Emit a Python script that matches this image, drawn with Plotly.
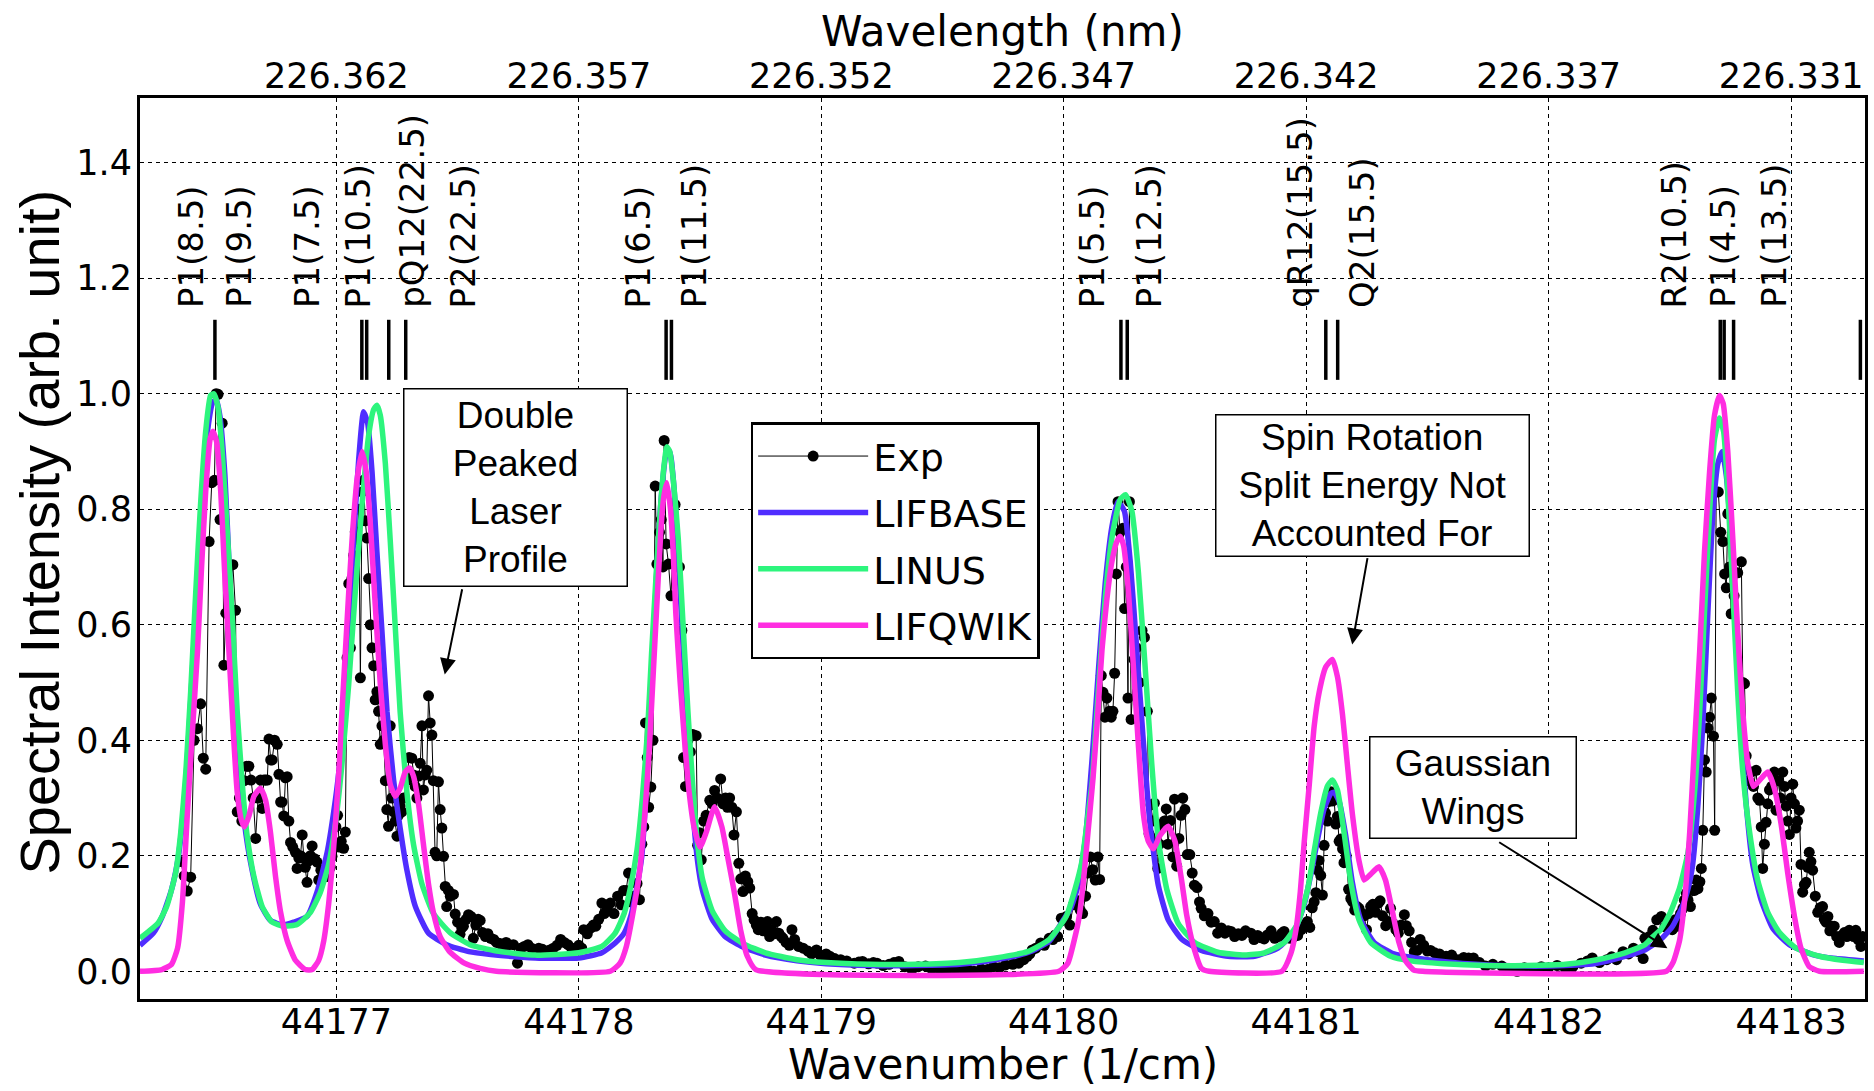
import plotly.graph_objects as go

# ---------------- experimental spectrum ----------------
exp_wavenumber = [
    44176.358, 44176.372, 44176.385, 44176.399, 44176.413, 44176.427, 44176.440, 44176.451, 44176.461, 44176.475,
    44176.486, 44176.497, 44176.504, 44176.512, 44176.520, 44176.529, 44176.536, 44176.544, 44176.556, 44176.573,
    44176.584, 44176.591, 44176.600, 44176.610, 44176.620, 44176.630, 44176.639, 44176.648, 44176.657, 44176.667,
    44176.677, 44176.687, 44176.694, 44176.701, 44176.708, 44176.715, 44176.722, 44176.729, 44176.735, 44176.745,
    44176.756, 44176.763, 44176.770, 44176.776, 44176.783, 44176.790, 44176.797, 44176.804, 44176.811, 44176.820,
    44176.831, 44176.838, 44176.845, 44176.852, 44176.859, 44176.866, 44176.872, 44176.879, 44176.886, 44176.893,
    44176.900, 44176.910, 44176.920, 44176.927, 44176.936, 44176.945, 44176.962, 44176.975, 44176.982, 44176.989,
    44176.998, 44177.005, 44177.012, 44177.020, 44177.030, 44177.037, 44177.044, 44177.051, 44177.058, 44177.064,
    44177.071, 44177.078, 44177.085, 44177.092, 44177.099, 44177.106, 44177.112, 44177.119, 44177.126, 44177.133,
    44177.140, 44177.147, 44177.154, 44177.160, 44177.167, 44177.174, 44177.181, 44177.188, 44177.195, 44177.202,
    44177.208, 44177.215, 44177.222, 44177.229, 44177.236, 44177.243, 44177.250, 44177.256, 44177.263, 44177.270,
    44177.277, 44177.290, 44177.300, 44177.311, 44177.318, 44177.325, 44177.332, 44177.339, 44177.346, 44177.353,
    44177.359, 44177.366, 44177.373, 44177.380, 44177.387, 44177.394, 44177.400, 44177.407, 44177.414, 44177.421,
    44177.428, 44177.435, 44177.442, 44177.449, 44177.455, 44177.462, 44177.470, 44177.483, 44177.490, 44177.500,
    44177.510, 44177.517, 44177.524, 44177.535, 44177.545, 44177.555, 44177.565, 44177.575, 44177.585, 44177.593,
    44177.603, 44177.615, 44177.625, 44177.637, 44177.649, 44177.661, 44177.675, 44177.689, 44177.700, 44177.712,
    44177.730, 44177.747, 44177.760, 44177.775, 44177.790, 44177.805, 44177.820, 44177.835, 44177.850, 44177.865,
    44177.880, 44177.895, 44177.910, 44177.925, 44177.940, 44177.955, 44177.970, 44177.985, 44178.000, 44178.012,
    44178.020, 44178.035, 44178.050, 44178.060, 44178.070, 44178.082, 44178.095, 44178.105, 44178.115, 44178.130,
    44178.145, 44178.160, 44178.175, 44178.185, 44178.195, 44178.205, 44178.215, 44178.225, 44178.240, 44178.250,
    44178.260, 44178.268, 44178.275, 44178.282, 44178.288, 44178.297, 44178.306, 44178.315, 44178.322, 44178.333,
    44178.340, 44178.347, 44178.352, 44178.360, 44178.370, 44178.380, 44178.388, 44178.397, 44178.405, 44178.415,
    44178.425, 44178.432, 44178.440, 44178.450, 44178.460, 44178.470, 44178.484, 44178.490, 44178.498, 44178.505,
    44178.515, 44178.525, 44178.540, 44178.550, 44178.560, 44178.570, 44178.585, 44178.595, 44178.605, 44178.613,
    44178.622, 44178.631, 44178.640, 44178.650, 44178.660, 44178.668, 44178.677, 44178.687, 44178.697, 44178.705,
    44178.715, 44178.723, 44178.732, 44178.740, 44178.750, 44178.760, 44178.770, 44178.778, 44178.787, 44178.796,
    44178.805, 44178.815, 44178.825, 44178.835, 44178.842, 44178.855, 44178.868, 44178.879, 44178.890, 44178.906,
    44178.925, 44178.945, 44178.960, 44178.980, 44178.995, 44179.007, 44179.020, 44179.035, 44179.055, 44179.080,
    44179.105, 44179.136, 44179.155, 44179.170, 44179.195, 44179.215, 44179.230, 44179.255, 44179.280, 44179.300,
    44179.320, 44179.345, 44179.374, 44179.400, 44179.430, 44179.455, 44179.480, 44179.500, 44179.525, 44179.555,
    44179.580, 44179.605, 44179.630, 44179.660, 44179.686, 44179.710, 44179.735, 44179.760, 44179.790, 44179.815,
    44179.835, 44179.850, 44179.860, 44179.870, 44179.885, 44179.905, 44179.920, 44179.940, 44179.955, 44179.965,
    44179.975, 44179.990, 44180.000, 44180.011, 44180.025, 44180.040, 44180.050, 44180.059, 44180.068, 44180.078,
    44180.090, 44180.100, 44180.110, 44180.120, 44180.130, 44180.141, 44180.148, 44180.155, 44180.162, 44180.170,
    44180.178, 44180.188, 44180.196, 44180.203, 44180.210, 44180.217, 44180.224, 44180.232, 44180.244, 44180.251,
    44180.258, 44180.265, 44180.271, 44180.278, 44180.290, 44180.300, 44180.312, 44180.323, 44180.333, 44180.345,
    44180.352, 44180.360, 44180.367, 44180.374, 44180.381, 44180.388, 44180.395, 44180.405, 44180.415, 44180.423,
    44180.430, 44180.440, 44180.450, 44180.457, 44180.466, 44180.475, 44180.484, 44180.491, 44180.500, 44180.510,
    44180.520, 44180.530, 44180.539, 44180.550, 44180.560, 44180.567, 44180.580, 44180.595, 44180.608, 44180.621,
    44180.635, 44180.650, 44180.665, 44180.678, 44180.690, 44180.705, 44180.720, 44180.735, 44180.750, 44180.772,
    44180.785, 44180.800, 44180.815, 44180.827, 44180.840, 44180.855, 44180.870, 44180.885, 44180.900, 44180.909,
    44180.920, 44180.935, 44180.950, 44180.965, 44180.980, 44180.995, 44181.005, 44181.015, 44181.025, 44181.033,
    44181.040, 44181.047, 44181.053, 44181.060, 44181.067, 44181.074, 44181.080, 44181.088, 44181.095, 44181.102,
    44181.110, 44181.115, 44181.122, 44181.129, 44181.136, 44181.143, 44181.150, 44181.156, 44181.165, 44181.175,
    44181.184, 44181.192, 44181.200, 44181.210, 44181.218, 44181.230, 44181.239, 44181.249, 44181.258, 44181.266,
    44181.275, 44181.287, 44181.298, 44181.305, 44181.315, 44181.328, 44181.338, 44181.348, 44181.358, 44181.370,
    44181.380, 44181.392, 44181.405, 44181.413, 44181.425, 44181.435, 44181.446, 44181.458, 44181.470, 44181.485,
    44181.500, 44181.513, 44181.530, 44181.550, 44181.577, 44181.600, 44181.626, 44181.650, 44181.670, 44181.690,
    44181.715, 44181.740, 44181.770, 44181.807, 44181.835, 44181.870, 44181.900, 44181.940, 44181.970, 44182.000,
    44182.035, 44182.070, 44182.100, 44182.134, 44182.160, 44182.180, 44182.210, 44182.240, 44182.260, 44182.280,
    44182.307, 44182.330, 44182.350, 44182.370, 44182.390, 44182.397, 44182.415, 44182.430, 44182.446, 44182.465,
    44182.480, 44182.495, 44182.510, 44182.522, 44182.534, 44182.544, 44182.554, 44182.560, 44182.568, 44182.575,
    44182.585, 44182.595, 44182.602, 44182.609, 44182.616, 44182.624, 44182.630, 44182.636, 44182.643, 44182.650,
    44182.657, 44182.664, 44182.671, 44182.680, 44182.685, 44182.691, 44182.700, 44182.710, 44182.719, 44182.726,
    44182.733, 44182.739, 44182.746, 44182.753, 44182.765, 44182.780, 44182.795, 44182.801, 44182.808, 44182.815,
    44182.825, 44182.835, 44182.845, 44182.856, 44182.863, 44182.870, 44182.877, 44182.883, 44182.890, 44182.897,
    44182.904, 44182.911, 44182.920, 44182.931, 44182.938, 44182.948, 44182.956, 44182.966, 44182.973, 44182.980,
    44182.987, 44182.993, 44183.000, 44183.007, 44183.014, 44183.020, 44183.027, 44183.034, 44183.041, 44183.048,
    44183.055, 44183.062, 44183.069, 44183.075, 44183.082, 44183.089, 44183.100, 44183.110, 44183.120, 44183.130,
    44183.137, 44183.144, 44183.152, 44183.160, 44183.170, 44183.178, 44183.188, 44183.199, 44183.210, 44183.220,
    44183.230, 44183.240, 44183.250, 44183.258, 44183.267, 44183.277, 44183.288, 44183.295,
]
exp_intensity = [
    0.190, 0.165, 0.139, 0.163, 0.400, 0.420, 0.463, 0.369, 0.350, 0.744,
    0.846, 0.850, 1.000, 0.999, 0.782, 0.949, 0.530, 0.620, 0.630, 0.704,
    0.625, 0.276, 0.300, 0.260, 0.330, 0.355, 0.355, 0.331, 0.300, 0.230,
    0.300, 0.331, 0.282, 0.331, 0.331, 0.331, 0.402, 0.366, 0.366, 0.400,
    0.393, 0.341, 0.293, 0.293, 0.269, 0.335, 0.337, 0.260, 0.223, 0.215,
    0.206, 0.178, 0.196, 0.200, 0.236, 0.196, 0.180, 0.154, 0.191, 0.200,
    0.217, 0.195, 0.189, 0.158, 0.175, 0.170, 0.164, 0.180, 0.199, 0.217,
    0.250, 0.270, 0.215, 0.225, 0.213, 0.241, 0.543, 0.671, 0.560, 0.680,
    0.720, 0.761, 0.747, 0.800, 0.508, 0.830, 0.850, 0.780, 0.750, 0.680,
    0.600, 0.560, 0.529, 0.470, 0.484, 0.450, 0.393, 0.425, 0.400, 0.330,
    0.280, 0.251, 0.425, 0.300, 0.276, 0.260, 0.234, 0.270, 0.286, 0.276,
    0.300, 0.330, 0.370, 0.369, 0.340, 0.320, 0.300, 0.338, 0.360, 0.425,
    0.314, 0.340, 0.348, 0.477, 0.430, 0.409, 0.330, 0.206, 0.200, 0.328,
    0.280, 0.248, 0.199, 0.147, 0.112, 0.140, 0.130, 0.133, 0.099, 0.085,
    0.064, 0.075, 0.078, 0.090, 0.098, 0.095, 0.057, 0.080, 0.090, 0.088,
    0.067, 0.060, 0.065, 0.057, 0.055, 0.050, 0.048, 0.040, 0.050, 0.046,
    0.046, 0.014, 0.040, 0.043, 0.046, 0.040, 0.036, 0.040, 0.038, 0.032,
    0.037, 0.040, 0.045, 0.055, 0.050, 0.046, 0.040, 0.040, 0.045, 0.040,
    0.072, 0.065, 0.075, 0.080, 0.078, 0.090, 0.118, 0.100, 0.110, 0.118,
    0.100, 0.130, 0.115, 0.140, 0.140, 0.170, 0.120, 0.130, 0.152, 0.124,
    0.220, 0.250, 0.430, 0.370, 0.284, 0.319, 0.400, 0.840, 0.705, 0.760,
    0.782, 0.700, 0.919, 0.740, 0.705, 0.650, 0.740, 0.808, 0.700, 0.700,
    0.590, 0.370, 0.320, 0.400, 0.380, 0.410, 0.408, 0.218, 0.240, 0.193,
    0.260, 0.270, 0.296, 0.290, 0.313, 0.300, 0.333, 0.290, 0.300, 0.284,
    0.300, 0.284, 0.236, 0.276, 0.187, 0.160, 0.138, 0.165, 0.155, 0.144,
    0.100, 0.089, 0.080, 0.072, 0.085, 0.070, 0.075, 0.086, 0.060, 0.072,
    0.065, 0.086, 0.066, 0.060, 0.057, 0.050, 0.045, 0.072, 0.055, 0.043,
    0.040, 0.035, 0.030, 0.037, 0.028, 0.026, 0.030, 0.026, 0.022, 0.020,
    0.018, 0.014, 0.016, 0.017, 0.013, 0.015, 0.014, 0.010, 0.012, 0.015,
    0.017, 0.008, 0.003, 0.008, 0.009, 0.004, 0.006, 0.000, 0.005, 0.004,
    0.006, 0.003, 0.000, 0.004, 0.003, 0.008, 0.006, 0.011, 0.012, 0.014,
    0.020, 0.026, 0.030, 0.037, 0.040, 0.049, 0.045, 0.057, 0.055, 0.063,
    0.060, 0.092, 0.089, 0.095, 0.080, 0.115, 0.120, 0.122, 0.106, 0.100,
    0.130, 0.170, 0.198, 0.176, 0.158, 0.198, 0.159, 0.512, 0.483, 0.440,
    0.473, 0.450, 0.440, 0.450, 0.516, 0.688, 0.813, 0.760, 0.767, 0.628,
    0.700, 0.473, 0.813, 0.436, 0.540, 0.560, 0.500, 0.590, 0.578, 0.450,
    0.238, 0.288, 0.260, 0.291, 0.230, 0.178, 0.220, 0.250, 0.260, 0.281,
    0.220, 0.261, 0.198, 0.298, 0.182, 0.230, 0.270, 0.300, 0.280, 0.202,
    0.202, 0.170, 0.149, 0.145, 0.120, 0.109, 0.096, 0.100, 0.085, 0.086,
    0.066, 0.075, 0.066, 0.070, 0.069, 0.060, 0.065, 0.062, 0.070, 0.066,
    0.055, 0.062, 0.058, 0.056, 0.063, 0.070, 0.057, 0.060, 0.066, 0.069,
    0.058, 0.057, 0.060, 0.062, 0.072, 0.080, 0.086, 0.076, 0.110, 0.120,
    0.136, 0.175, 0.192, 0.166, 0.132, 0.218, 0.274, 0.260, 0.294, 0.311,
    0.295, 0.300, 0.255, 0.268, 0.225, 0.229, 0.212, 0.188, 0.200, 0.142,
    0.126, 0.120, 0.106, 0.112, 0.109, 0.100, 0.096, 0.072, 0.100, 0.112,
    0.116, 0.102, 0.118, 0.122, 0.096, 0.079, 0.086, 0.109, 0.083, 0.072,
    0.066, 0.080, 0.098, 0.079, 0.070, 0.050, 0.034, 0.036, 0.055, 0.045,
    0.035, 0.036, 0.032, 0.030, 0.026, 0.028, 0.020, 0.024, 0.023, 0.023,
    0.015, 0.009, 0.012, 0.009, 0.005, 0.000, 0.006, 0.003, 0.008, 0.006,
    0.010, 0.003, 0.008, 0.014, 0.018, 0.023, 0.015, 0.020, 0.025, 0.020,
    0.034, 0.030, 0.040, 0.034, 0.022, 0.057, 0.060, 0.071, 0.089, 0.095,
    0.077, 0.081, 0.072, 0.089, 0.078, 0.100, 0.109, 0.123, 0.135, 0.123,
    0.112, 0.140, 0.140, 0.158, 0.143, 0.155, 0.178, 0.244, 0.366, 0.345,
    0.421, 0.440, 0.473, 0.407, 0.244, 0.830, 0.830, 0.760, 0.744, 0.688,
    0.664, 0.792, 0.700, 0.619, 0.650, 0.690, 0.709, 0.500, 0.498, 0.373,
    0.330, 0.345, 0.320, 0.348, 0.300, 0.296, 0.250, 0.178, 0.220, 0.258,
    0.290, 0.314, 0.320, 0.345, 0.279, 0.330, 0.300, 0.345, 0.320, 0.286,
    0.260, 0.237, 0.300, 0.324, 0.290, 0.248, 0.260, 0.279, 0.185, 0.137,
    0.150, 0.154, 0.180, 0.206, 0.190, 0.175, 0.130, 0.102, 0.110, 0.112,
    0.090, 0.085, 0.095, 0.070, 0.078, 0.078, 0.060, 0.050, 0.062, 0.067,
    0.060, 0.071, 0.066, 0.060, 0.071, 0.055, 0.043, 0.060,
]

# ---------------- LIFBASE simulation ----------------
lifbase_wavenumber = [
    44176.190, 44176.245, 44176.282, 44176.319, 44176.345, 44176.370, 44176.390, 44176.410, 44176.430, 44176.450,
    44176.470, 44176.490, 44176.505, 44176.520, 44176.540, 44176.560, 44176.580, 44176.600, 44176.620, 44176.650,
    44176.687, 44176.728, 44176.780, 44176.824, 44176.879, 44176.920, 44176.962, 44176.989, 44177.010, 44177.030,
    44177.051, 44177.071, 44177.092, 44177.112, 44177.129, 44177.147, 44177.167, 44177.188, 44177.209, 44177.236,
    44177.263, 44177.291, 44177.326, 44177.380, 44177.454, 44177.546, 44177.637, 44177.820, 44178.000, 44178.095,
    44178.150, 44178.187, 44178.214, 44178.240, 44178.260, 44178.280, 44178.300, 44178.320, 44178.340, 44178.360,
    44178.375, 44178.390, 44178.410, 44178.430, 44178.450, 44178.470, 44178.490, 44178.510, 44178.550, 44178.604,
    44178.677, 44178.770, 44178.900, 44179.020, 44179.200, 44179.390, 44179.570, 44179.720, 44179.850, 44179.940,
    44180.000, 44180.030, 44180.060, 44180.089, 44180.117, 44180.144, 44180.171, 44180.199, 44180.223, 44180.250,
    44180.274, 44180.301, 44180.329, 44180.356, 44180.390, 44180.431, 44180.486, 44180.568, 44180.678, 44180.787,
    44180.883, 44180.951, 44180.992, 44181.020, 44181.047, 44181.074, 44181.102, 44181.115, 44181.136, 44181.163,
    44181.190, 44181.225, 44181.280, 44181.362, 44181.500, 44181.700, 44181.900, 44182.070, 44182.200, 44182.315,
    44182.397, 44182.462, 44182.510, 44182.552, 44182.577, 44182.593, 44182.616, 44182.636, 44182.657, 44182.678,
    44182.698, 44182.716, 44182.733, 44182.753, 44182.774, 44182.794, 44182.815, 44182.842, 44182.877, 44182.925,
    44182.993, 44183.089, 44183.185, 44183.300,
]
lifbase_intensity = [
    0.045, 0.066, 0.095, 0.140, 0.190, 0.280, 0.400, 0.550, 0.700, 0.840,
    0.940, 0.985, 0.990, 0.960, 0.860, 0.680, 0.500, 0.360, 0.260, 0.180,
    0.116, 0.088, 0.080, 0.085, 0.095, 0.137, 0.206, 0.276, 0.345, 0.449,
    0.588, 0.747, 0.886, 0.969, 0.949, 0.865, 0.727, 0.588, 0.449, 0.331,
    0.248, 0.175, 0.112, 0.066, 0.046, 0.034, 0.029, 0.023, 0.023, 0.032,
    0.049, 0.066, 0.095, 0.147, 0.200, 0.330, 0.500, 0.680, 0.820, 0.895,
    0.900, 0.850, 0.720, 0.560, 0.400, 0.280, 0.190, 0.140, 0.090, 0.060,
    0.042, 0.028, 0.018, 0.013, 0.010, 0.010, 0.012, 0.020, 0.032, 0.052,
    0.090, 0.110, 0.150, 0.228, 0.367, 0.526, 0.671, 0.770, 0.813, 0.797,
    0.711, 0.559, 0.394, 0.255, 0.149, 0.089, 0.056, 0.036, 0.026, 0.026,
    0.040, 0.069, 0.116, 0.169, 0.228, 0.281, 0.308, 0.310, 0.294, 0.235,
    0.155, 0.089, 0.050, 0.030, 0.020, 0.012, 0.009, 0.010, 0.014, 0.026,
    0.037, 0.055, 0.077, 0.112, 0.146, 0.181, 0.289, 0.428, 0.622, 0.795,
    0.879, 0.900, 0.858, 0.747, 0.587, 0.414, 0.289, 0.185, 0.123, 0.074,
    0.046, 0.029, 0.022, 0.018,
]

# ---------------- LINUS simulation ----------------
linus_wavenumber = [
    44176.190, 44176.264, 44176.300, 44176.337, 44176.358, 44176.379, 44176.399, 44176.420, 44176.440, 44176.461,
    44176.481, 44176.495, 44176.512, 44176.529, 44176.550, 44176.571, 44176.591, 44176.612, 44176.632, 44176.660,
    44176.694, 44176.735, 44176.783, 44176.838, 44176.893, 44176.934, 44176.968, 44176.996, 44177.023, 44177.051,
    44177.078, 44177.106, 44177.133, 44177.154, 44177.167, 44177.181, 44177.202, 44177.222, 44177.243, 44177.263,
    44177.291, 44177.318, 44177.353, 44177.400, 44177.469, 44177.551, 44177.661, 44177.820, 44178.000, 44178.095,
    44178.150, 44178.187, 44178.214, 44178.240, 44178.262, 44178.284, 44178.300, 44178.318, 44178.338, 44178.350,
    44178.363, 44178.375, 44178.390, 44178.410, 44178.430, 44178.450, 44178.470, 44178.490, 44178.510, 44178.550,
    44178.604, 44178.677, 44178.770, 44178.900, 44179.020, 44179.200, 44179.390, 44179.570, 44179.720, 44179.850,
    44179.940, 44180.010, 44180.045, 44180.075, 44180.100, 44180.117, 44180.144, 44180.171, 44180.199, 44180.233,
    44180.255, 44180.281, 44180.308, 44180.336, 44180.363, 44180.390, 44180.425, 44180.472, 44180.540, 44180.636,
    44180.746, 44180.828, 44180.910, 44180.965, 44181.006, 44181.033, 44181.060, 44181.088, 44181.108, 44181.129,
    44181.156, 44181.184, 44181.218, 44181.266, 44181.348, 44181.430, 44181.567, 44181.740, 44181.905, 44182.070,
    44182.200, 44182.315, 44182.397, 44182.430, 44182.462, 44182.500, 44182.540, 44182.575, 44182.602, 44182.623,
    44182.643, 44182.664, 44182.684, 44182.705, 44182.722, 44182.739, 44182.760, 44182.780, 44182.801, 44182.829,
    44182.863, 44182.904, 44182.952, 44183.021, 44183.117, 44183.213, 44183.300,
]
linus_intensity = [
    0.057, 0.083, 0.112, 0.170, 0.240, 0.345, 0.484, 0.657, 0.810, 0.935,
    0.997, 1.000, 0.976, 0.900, 0.761, 0.609, 0.449, 0.324, 0.234, 0.164,
    0.112, 0.085, 0.078, 0.081, 0.102, 0.137, 0.185, 0.255, 0.359, 0.498,
    0.657, 0.810, 0.928, 0.973, 0.980, 0.963, 0.879, 0.747, 0.595, 0.449,
    0.310, 0.220, 0.151, 0.100, 0.067, 0.046, 0.035, 0.028, 0.032, 0.043,
    0.066, 0.100, 0.147, 0.210, 0.300, 0.420, 0.550, 0.680, 0.810, 0.870,
    0.908, 0.900, 0.850, 0.750, 0.600, 0.450, 0.320, 0.220, 0.160, 0.105,
    0.070, 0.048, 0.032, 0.020, 0.015, 0.012, 0.012, 0.015, 0.023, 0.034,
    0.055, 0.095, 0.140, 0.190, 0.270, 0.327, 0.493, 0.645, 0.751, 0.817,
    0.825, 0.797, 0.691, 0.526, 0.360, 0.228, 0.142, 0.083, 0.050, 0.033,
    0.028, 0.032, 0.050, 0.083, 0.142, 0.208, 0.274, 0.321, 0.331, 0.314,
    0.241, 0.155, 0.089, 0.050, 0.026, 0.018, 0.013, 0.010, 0.010, 0.012,
    0.020, 0.032, 0.046, 0.060, 0.072, 0.100, 0.144, 0.206, 0.310, 0.449,
    0.622, 0.795, 0.920, 0.958, 0.934, 0.830, 0.657, 0.483, 0.345, 0.241,
    0.157, 0.102, 0.067, 0.040, 0.026, 0.019, 0.015,
]

# ---------------- LIFQWIK simulation ----------------
lifqwik_wavenumber = [
    44176.190, 44176.280, 44176.320, 44176.345, 44176.365, 44176.385, 44176.406, 44176.427, 44176.443, 44176.461,
    44176.479, 44176.491, 44176.506, 44176.523, 44176.539, 44176.557, 44176.575, 44176.591, 44176.608, 44176.621,
    44176.640, 44176.660, 44176.687, 44176.708, 44176.728, 44176.749, 44176.770, 44176.797, 44176.831, 44176.872,
    44176.900, 44176.927, 44176.948, 44176.968, 44176.982, 44176.996, 44177.010, 44177.023, 44177.037, 44177.051,
    44177.067, 44177.085, 44177.106, 44177.123, 44177.140, 44177.160, 44177.181, 44177.202, 44177.222, 44177.243,
    44177.263, 44177.284, 44177.302, 44177.318, 44177.339, 44177.359, 44177.380, 44177.400, 44177.428, 44177.469,
    44177.524, 44177.593, 44177.660, 44178.130, 44178.170, 44178.196, 44178.223, 44178.250, 44178.270, 44178.290,
    44178.305, 44178.320, 44178.338, 44178.350, 44178.363, 44178.378, 44178.390, 44178.400, 44178.418, 44178.436,
    44178.455, 44178.475, 44178.500, 44178.525, 44178.560, 44178.590, 44178.613, 44178.640, 44178.668, 44178.695,
    44178.730, 44179.980, 44180.017, 44180.044, 44180.062, 44180.080, 44180.100, 44180.120, 44180.137, 44180.158,
    44180.178, 44180.199, 44180.219, 44180.233, 44180.247, 44180.267, 44180.288, 44180.308, 44180.329, 44180.349,
    44180.370, 44180.397, 44180.431, 44180.459, 44180.486, 44180.507, 44180.534, 44180.568, 44180.600, 44180.900,
    44180.937, 44180.958, 44180.976, 44180.992, 44181.013, 44181.033, 44181.054, 44181.081, 44181.108, 44181.129,
    44181.150, 44181.170, 44181.191, 44181.218, 44181.239, 44181.266, 44181.300, 44181.327, 44181.355, 44181.382,
    44181.410, 44181.444, 44181.480, 44182.486, 44182.513, 44182.540, 44182.561, 44182.582, 44182.602, 44182.623,
    44182.643, 44182.664, 44182.684, 44182.705, 44182.720, 44182.739, 44182.760, 44182.780, 44182.801, 44182.822,
    44182.845, 44182.877, 44182.904, 44182.931, 44182.959, 44182.986, 44183.014, 44183.041, 44183.075, 44183.117,
    44183.300,
]
lifqwik_intensity = [
    0.000, 0.003, 0.012, 0.040, 0.120, 0.270, 0.414, 0.553, 0.692, 0.831,
    0.921, 0.935, 0.917, 0.831, 0.692, 0.553, 0.414, 0.310, 0.262, 0.250,
    0.270, 0.303, 0.317, 0.296, 0.241, 0.164, 0.102, 0.053, 0.019, 0.003,
    0.003, 0.019, 0.053, 0.116, 0.178, 0.255, 0.345, 0.449, 0.553, 0.657,
    0.761, 0.851, 0.900, 0.865, 0.775, 0.636, 0.498, 0.393, 0.324, 0.303,
    0.317, 0.345, 0.352, 0.338, 0.289, 0.220, 0.151, 0.102, 0.060, 0.033,
    0.015, 0.005, 0.000, 0.000, 0.014, 0.043, 0.100, 0.170, 0.260, 0.380,
    0.500, 0.620, 0.760, 0.820, 0.846, 0.800, 0.720, 0.620, 0.500, 0.400,
    0.310, 0.250, 0.215, 0.240, 0.285, 0.250, 0.200, 0.140, 0.070, 0.026,
    0.003, 0.000, 0.014, 0.055, 0.090, 0.150, 0.240, 0.330, 0.424, 0.557,
    0.644, 0.710, 0.744, 0.753, 0.737, 0.657, 0.524, 0.391, 0.271, 0.225,
    0.212, 0.235, 0.251, 0.225, 0.158, 0.098, 0.045, 0.005, 0.000, 0.000,
    0.031, 0.072, 0.138, 0.224, 0.324, 0.424, 0.484, 0.527, 0.540, 0.510,
    0.444, 0.358, 0.271, 0.191, 0.158, 0.168, 0.181, 0.158, 0.105, 0.051,
    0.018, 0.002, 0.000, 0.000, 0.015, 0.053, 0.123, 0.241, 0.393, 0.553,
    0.726, 0.865, 0.962, 0.997, 0.983, 0.900, 0.747, 0.587, 0.449, 0.359,
    0.320, 0.334, 0.345, 0.317, 0.255, 0.171, 0.095, 0.040, 0.008, 0.000,
    0.000,
]

# ---------------- transition assignments ----------------
transition_lines = [
    44176.499, 44177.105, 44177.125, 44177.216, 44177.286, 44178.360, 44178.382,
    44180.236, 44180.262, 44181.081, 44181.130, 44182.708, 44182.724, 44182.763, 44183.286,
]
transition_labels = [
    "P1(8.5)", "P1(9.5)", "P1(7.5)", "P1(10.5)", "pQ12(22.5)", "P2(22.5)", "P1(6.5)", "P1(11.5)",
    "P1(5.5)", "P1(12.5)", "qR12(15.5)", "Q2(15.5)", "R2(10.5)", "P1(4.5)", "P1(13.5)",
]
transition_label_x = [
    44176.403, 44176.600, 44176.881, 44177.087, 44177.311, 44177.524, 44178.248, 44178.476,
    44180.120, 44180.353, 44180.976, 44181.232, 44182.519, 44182.720, 44182.929,
]

# ---------------- axes ----------------
wavenumber_ticks = [44177, 44178, 44179, 44180, 44181, 44182, 44183]
wavenumber_labels = ["44177", "44178", "44179", "44180", "44181", "44182", "44183"]
wavelength_labels = ["226.362", "226.357", "226.352", "226.347", "226.342", "226.337", "226.331"]
intensity_ticks = [0.0, 0.2, 0.4, 0.6, 0.8, 1.0, 1.2, 1.4]
x_range = [44176.19, 44183.305]
y_range = [-0.048, 1.512]

BLUE = "rgb(80,45,255)"
GREEN = "rgb(45,245,125)"
MAGENTA = "rgb(255,45,225)"
TICK_FONT = dict(family="DejaVu Sans", size=35, color="black")
TITLE_FONT = dict(family="DejaVu Sans", size=42, color="black")
NOTE_FONT = dict(family="Liberation Sans, Arial", size=37, color="black")

fig = go.Figure()

fig.add_trace(go.Scatter(
    x=exp_wavenumber, y=exp_intensity, name="Exp", mode="lines+markers",
    line=dict(color="black", width=1),
    marker=dict(color="black", size=11),
    legendgroup="exp",
))
for name, xs, ys, color in [
    ("LIFBASE", lifbase_wavenumber, lifbase_intensity, BLUE),
    ("LINUS", linus_wavenumber, linus_intensity, GREEN),
    ("LIFQWIK", lifqwik_wavenumber, lifqwik_intensity, MAGENTA),
]:
    fig.add_trace(go.Scatter(
        x=xs, y=ys, name=name, mode="lines",
        line=dict(color=color, width=5.5, shape="spline", smoothing=0.5),
        legendgroup=name,
    ))

# stick marks for the assigned transitions
stick_x, stick_y = [], []
for pos in transition_lines:
    stick_x += [pos, pos, None]
    stick_y += [1.024, 1.128, None]
fig.add_trace(go.Scatter(
    x=stick_x, y=stick_y, mode="lines", showlegend=False,
    line=dict(color="black", width=3.5),
))

# invisible trace that activates the top wavelength axis
fig.add_trace(go.Scatter(
    x=[x_range[0]], y=[y_range[0]], xaxis="x2", mode="markers",
    marker=dict(opacity=0), showlegend=False, hoverinfo="skip",
))

annotations = []
for text, xpos in zip(transition_labels, transition_label_x):
    annotations.append(dict(
        x=xpos, y=1.145, xref="x", yref="y", text=text, showarrow=False,
        textangle=-90, xanchor="center", yanchor="bottom",
        font=dict(family="DejaVu Sans", size=34, color="black"),
    ))

# callout boxes
for text, xc, yc, w, h in [
    ("Double<br>Peaked<br>Laser<br>Profile", 44177.739, 0.837, 218, 192),
    ("Spin Rotation<br>Split Energy Not<br>Accounted For", 44181.272, 0.841, 308, 136),
    ("Gaussian<br>Wings", 44181.689, 0.318, 201, 96),
]:
    annotations.append(dict(
        x=xc, y=yc, xref="x", yref="y", text=text, showarrow=False,
        xanchor="center", yanchor="middle", align="center",
        width=w, height=h, valign="middle",
        bgcolor="white", bordercolor="black", borderwidth=1.5, borderpad=2,
        font=NOTE_FONT,
    ))

# callout arrows (tail on the box edge, head at the feature)
for x_tip, y_tip, x_tail, y_tail in [
    (44177.447, 0.514, 44177.52, 0.664),
    (44181.19, 0.566, 44181.254, 0.718),
    (44182.49, 0.040, 44181.79, 0.225),
]:
    annotations.append(dict(
        x=x_tip, y=y_tip, ax=x_tail, ay=y_tail, xref="x", yref="y",
        axref="x", ayref="y", text="", showarrow=True,
        arrowhead=2, arrowsize=1.6, arrowwidth=2, arrowcolor="black", standoff=0,
    ))

# axis titles
annotations += [
    dict(x=0.5, y=-0.0725, xref="paper", yref="paper", text="Wavenumber (1/cm)",
         showarrow=False, xanchor="center", yanchor="middle", font=TITLE_FONT),
    dict(x=0.5, y=1.0733, xref="paper", yref="paper", text="Wavelength (nm)",
         showarrow=False, xanchor="center", yanchor="middle", font=TITLE_FONT),
    dict(x=-0.0584, y=0.518, xref="paper", yref="paper", text="Spectral Intensity (arb. unit)",
         showarrow=False, xanchor="center", yanchor="middle", textangle=-90,
         font=dict(family="Liberation Sans, Arial", size=56, color="black")),
]

grid_style = dict(showgrid=True, gridcolor="black", gridwidth=1, griddash="4px,4px")

fig.update_layout(
    width=1874, height=1091,
    margin=dict(l=140, r=6, t=98, b=92),
    paper_bgcolor="white", plot_bgcolor="white",
    showlegend=True,
    legend=dict(
        x=0.354, y=0.640, xanchor="left", yanchor="top",
        bgcolor="white", bordercolor="black", borderwidth=2.5,
        font=dict(family="DejaVu Sans", size=38, color="black"),
        traceorder="grouped", tracegroupgap=4, itemwidth=110,
    ),
    xaxis=dict(
        range=x_range, tickvals=wavenumber_ticks, ticktext=wavenumber_labels,
        tickfont=TICK_FONT, ticks="", showline=True, linecolor="black", linewidth=3,
        zeroline=False, ticklabelstandoff=-10, **grid_style,
    ),
    xaxis2=dict(
        range=x_range, overlaying="x", side="top", tickvals=wavenumber_ticks,
        ticktext=wavelength_labels, tickfont=TICK_FONT, ticks="",
        showline=True, linecolor="black", linewidth=3, showgrid=False, zeroline=False,
        ticklabelstandoff=-7,
    ),
    yaxis=dict(
        range=y_range, tickvals=intensity_ticks, tickformat=".1f",
        tickfont=TICK_FONT, ticks="", showline=True, linecolor="black", linewidth=3,
        mirror=True, zeroline=False, ticklabelstandoff=-2, **grid_style,
    ),
    annotations=annotations,
)

fig.write_html("out.html")
